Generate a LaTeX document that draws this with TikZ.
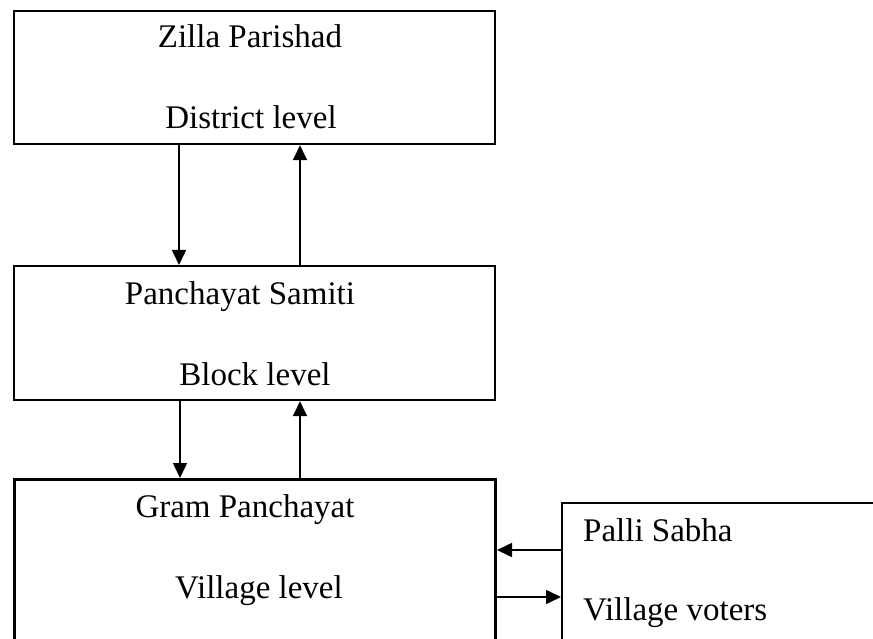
\documentclass[tikz,border=0pt]{standalone}
\usepackage{fontspec}
\setmainfont{Liberation Serif}
\usetikzlibrary{arrows.meta, positioning}

\begin{document}
\begin{tikzpicture}[x=1pt, y=-1pt]
    % --- Frame ---
    \useasboundingbox (0, 0) rectangle (873, 639);
    \clip (0, 0) rectangle (873, 639);

    % --- Styles ---
    \tikzstyle{level_box}=[
        draw=black,
        rectangle,
        line width=2.2pt,
        inner sep=0pt,
        anchor=north west
    ]
    \tikzstyle{level_text}=[
        font=\fontsize{33}{39}\selectfont,
        inner sep=0pt,
        anchor=base
    ]
    \tikzstyle{flow_arrow}=[
        -{Triangle[length=15pt, width=14pt]},
        line width=1.6pt
    ]

    % --- 1. Boxes ---
    \node[level_box, minimum width=481pt, minimum height=133pt] (zilla) at (13, 10) {};
    \node[level_box, minimum width=481pt, minimum height=134pt] (samiti) at (13, 265) {};
    \node[level_box, line width=3pt, minimum width=481pt, minimum height=200pt] (gram) at (13, 478) {};
    \node[level_box, minimum width=340pt, minimum height=180pt] (palli) at (561, 502) {};

    % --- 2. Texts ---
    \node[level_text] (zilla_name) at (250, 48) {Zilla Parishad};
    \node[level_text] (zilla_level) at (251, 129) {District level};
    \node[level_text] (samiti_name) at (240, 304) {Panchayat Samiti};
    \node[level_text] (samiti_level) at (255, 385) {Block level};
    \node[level_text] (gram_name) at (245, 517) {Gram Panchayat};
    \node[level_text] (gram_level) at (259, 598) {Village level};
    \node[level_text, anchor=base west] (palli_name) at (583, 541) {Palli Sabha};
    \node[level_text, anchor=base west] (palli_level) at (583, 620) {Village voters};

    % --- 3. Connectors ---
    \draw[flow_arrow] (zilla.south -| 179, 0) -- (samiti.north -| 179, 0);
    \draw[flow_arrow] (samiti.north -| 300, 0) -- (zilla.south -| 300, 0);
    \draw[flow_arrow] (samiti.south -| 180, 0) -- (gram.north -| 180, 0);
    \draw[flow_arrow] (gram.north -| 300, 0) -- (samiti.south -| 300, 0);
    \draw[flow_arrow] (palli.west |- 0, 550) -- (gram.east |- 0, 550);
    \draw[flow_arrow] (gram.east |- 0, 597) -- (palli.west |- 0, 597);

\end{tikzpicture}
\end{document}
